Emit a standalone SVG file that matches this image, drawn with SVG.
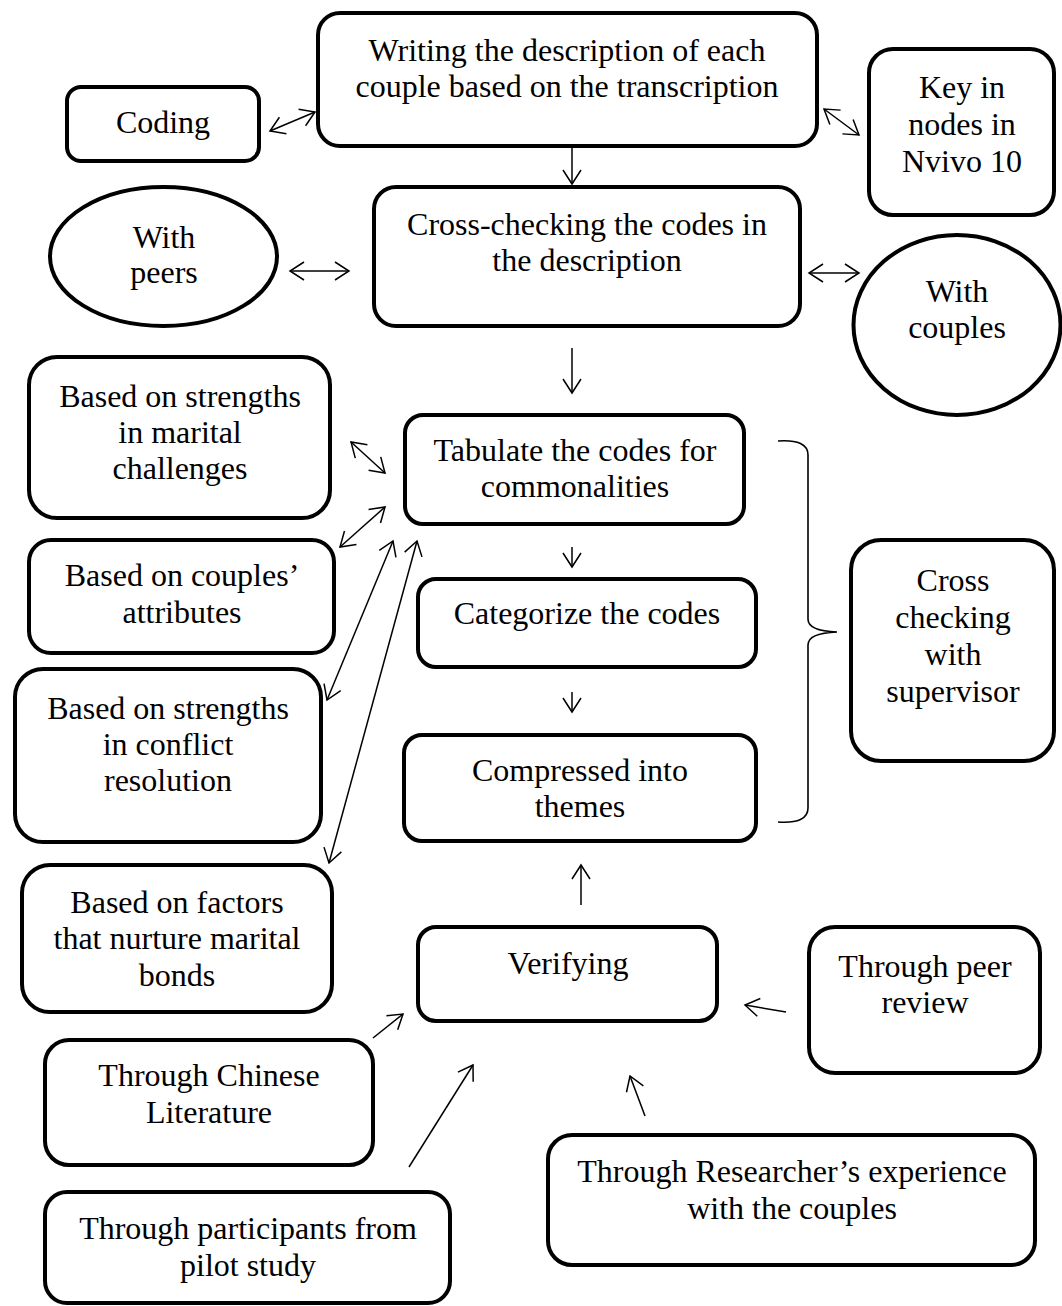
<svg xmlns="http://www.w3.org/2000/svg" width="1062" height="1306" viewBox="0 0 1062 1306">
  <style>
    .box { fill: #ffffff; stroke: #000000; stroke-width: 4; }
    .lbl { font-family: "Liberation Serif", "Times New Roman", serif; font-size: 32px; fill: #000000; text-anchor: middle; }
    .arw { fill: none; stroke: #000000; stroke-width: 1.5; }
    .brace { fill: none; stroke: #000000; stroke-width: 1.6; }
  </style>
  <defs>
    <marker id="head" markerUnits="userSpaceOnUse" markerWidth="20" markerHeight="22" viewBox="-16 -11 20 22" refX="0" refY="0" orient="auto-start-reverse">
      <path d="M -14 -9 L 0 0 L -14 9" fill="none" stroke="#000000" stroke-width="1.5"/>
    </marker>
  </defs>
  <rect width="1062" height="1306" fill="#ffffff"/>

  <g id="writing">
    <rect class="box" x="318" y="13" width="499" height="133" rx="22"/>
    <text class="lbl" x="567" y="61">Writing the description of each</text>
    <text class="lbl" x="567" y="97">couple based on the transcription</text>
  </g>
  <g id="coding">
    <rect class="box" x="67" y="87" width="192" height="74" rx="14"/>
    <text class="lbl" x="163" y="133">Coding</text>
  </g>
  <g id="keyin">
    <rect class="box" x="869" y="49" width="185" height="166" rx="24"/>
    <text class="lbl" x="962" y="98">Key in</text>
    <text class="lbl" x="962" y="135">nodes in</text>
    <text class="lbl" x="962" y="172">Nvivo 10</text>
  </g>
  <g id="peers">
    <ellipse class="box" cx="163.5" cy="256.5" rx="113.5" ry="69.5"/>
    <text class="lbl" x="164" y="248">With</text>
    <text class="lbl" x="164" y="283">peers</text>
  </g>
  <g id="crosscheck">
    <rect class="box" x="374" y="187" width="426" height="139" rx="22"/>
    <text class="lbl" x="587" y="235">Cross-checking the codes in</text>
    <text class="lbl" x="587" y="271">the description</text>
  </g>
  <g id="couples">
    <ellipse class="box" cx="957" cy="325" rx="103.5" ry="90"/>
    <text class="lbl" x="957" y="302">With</text>
    <text class="lbl" x="957" y="338">couples</text>
  </g>
  <g id="marital">
    <rect class="box" x="29" y="357" width="301" height="161" rx="28"/>
    <text class="lbl" x="180" y="407">Based on strengths</text>
    <text class="lbl" x="180" y="443">in marital</text>
    <text class="lbl" x="180" y="479">challenges</text>
  </g>
  <g id="tabulate">
    <rect class="box" x="405" y="415" width="339" height="109" rx="18"/>
    <text class="lbl" x="575" y="461">Tabulate the codes for</text>
    <text class="lbl" x="575" y="497">commonalities</text>
  </g>
  <g id="attributes">
    <rect class="box" x="29" y="540" width="305" height="113" rx="22"/>
    <text class="lbl" x="182" y="586">Based on couples’</text>
    <text class="lbl" x="182" y="623">attributes</text>
  </g>
  <g id="categorize">
    <rect class="box" x="418" y="579" width="338" height="88" rx="18"/>
    <text class="lbl" x="587" y="624">Categorize the codes</text>
  </g>
  <g id="conflict">
    <rect class="box" x="15" y="669" width="306" height="173" rx="28"/>
    <text class="lbl" x="168" y="719">Based on strengths</text>
    <text class="lbl" x="168" y="755">in conflict</text>
    <text class="lbl" x="168" y="791">resolution</text>
  </g>
  <g id="compressed">
    <rect class="box" x="404" y="735" width="352" height="106" rx="18"/>
    <text class="lbl" x="580" y="781">Compressed into</text>
    <text class="lbl" x="580" y="817">themes</text>
  </g>
  <g id="supervisor">
    <rect class="box" x="851" y="540" width="203" height="221" rx="30"/>
    <text class="lbl" x="953" y="591">Cross</text>
    <text class="lbl" x="953" y="628">checking</text>
    <text class="lbl" x="953" y="665">with</text>
    <text class="lbl" x="953" y="702">supervisor</text>
  </g>
  <g id="factors">
    <rect class="box" x="22" y="865" width="310" height="147" rx="28"/>
    <text class="lbl" x="177" y="913">Based on factors</text>
    <text class="lbl" x="177" y="949">that nurture marital</text>
    <text class="lbl" x="177" y="986">bonds</text>
  </g>
  <g id="verifying">
    <rect class="box" x="418" y="927" width="299" height="94" rx="18"/>
    <text class="lbl" x="568" y="974">Verifying</text>
  </g>
  <g id="peerreview">
    <rect class="box" x="809" y="927" width="231" height="146" rx="26"/>
    <text class="lbl" x="925" y="977">Through peer</text>
    <text class="lbl" x="925" y="1013">review</text>
  </g>
  <g id="chinese">
    <rect class="box" x="45" y="1040" width="328" height="125" rx="24"/>
    <text class="lbl" x="209" y="1086">Through Chinese</text>
    <text class="lbl" x="209" y="1123">Literature</text>
  </g>
  <g id="researcher">
    <rect class="box" x="548" y="1135" width="487" height="130" rx="24"/>
    <text class="lbl" x="792" y="1182">Through Researcher’s experience</text>
    <text class="lbl" x="792" y="1219">with the couples</text>
  </g>
  <g id="participants">
    <rect class="box" x="45" y="1192" width="405" height="111" rx="22"/>
    <text class="lbl" x="248" y="1239">Through participants from</text>
    <text class="lbl" x="248" y="1276">pilot study</text>
  </g>

  <g id="connectors">
    <!-- two-way links -->
    <line class="arw" x1="270" y1="131" x2="315" y2="112" marker-start="url(#head)" marker-end="url(#head)"/>
    <line class="arw" x1="824" y1="109" x2="859" y2="135" marker-start="url(#head)" marker-end="url(#head)"/>
    <line class="arw" x1="290" y1="271" x2="349" y2="271" marker-start="url(#head)" marker-end="url(#head)"/>
    <line class="arw" x1="809" y1="273" x2="859" y2="273" marker-start="url(#head)" marker-end="url(#head)"/>
    <line class="arw" x1="351" y1="442" x2="385" y2="473" marker-start="url(#head)" marker-end="url(#head)"/>
    <line class="arw" x1="340" y1="547" x2="385" y2="507" marker-start="url(#head)" marker-end="url(#head)"/>
    <line class="arw" x1="327" y1="700" x2="393" y2="541" marker-start="url(#head)" marker-end="url(#head)"/>
    <line class="arw" x1="329" y1="863" x2="417" y2="541" marker-start="url(#head)" marker-end="url(#head)"/>
    <!-- main flow -->
    <line class="arw" x1="572" y1="148" x2="572" y2="184" marker-end="url(#head)"/>
    <line class="arw" x1="572" y1="348" x2="572" y2="393" marker-end="url(#head)"/>
    <line class="arw" x1="572" y1="547" x2="572" y2="567" marker-end="url(#head)"/>
    <line class="arw" x1="572" y1="692" x2="572" y2="712" marker-end="url(#head)"/>
    <line class="arw" x1="581" y1="905" x2="581" y2="865" marker-end="url(#head)"/>
    <!-- verification sources -->
    <line class="arw" x1="786" y1="1012" x2="745" y2="1005" marker-end="url(#head)"/>
    <line class="arw" x1="645" y1="1116" x2="630" y2="1076" marker-end="url(#head)"/>
    <line class="arw" x1="373" y1="1038" x2="403" y2="1014" marker-end="url(#head)"/>
    <line class="arw" x1="409" y1="1167" x2="473" y2="1065" marker-end="url(#head)"/>
    <!-- brace grouping the three coding steps -->
    <path class="brace" d="M 778 441 Q 808 439 808 455 L 808 619 Q 808 631 837 632 Q 808 633 808 645 L 808 808 Q 808 824 778 822"/>
  </g>
</svg>
